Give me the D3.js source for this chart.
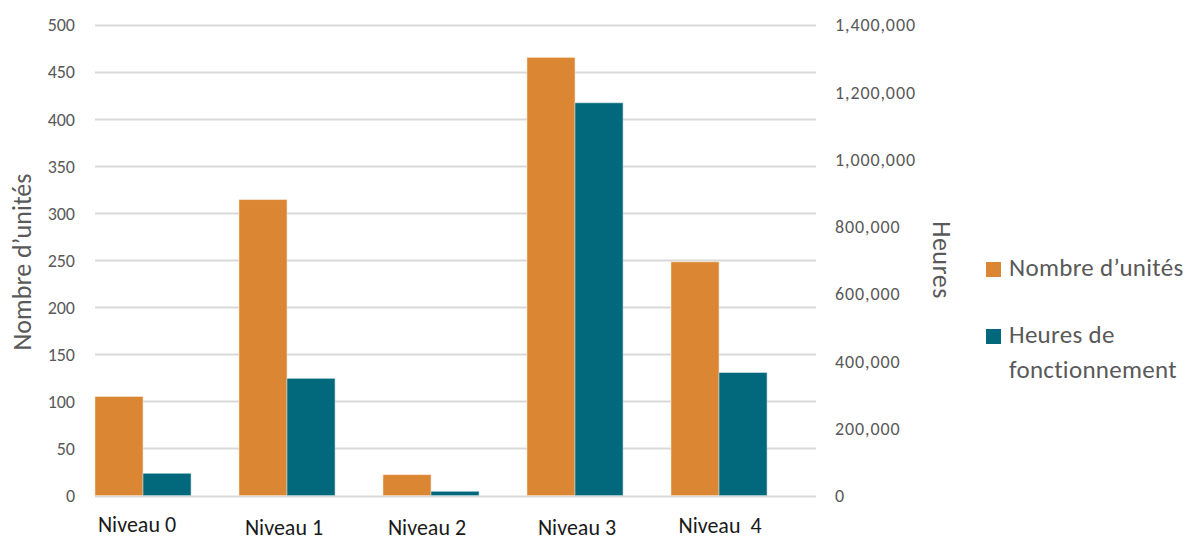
<!DOCTYPE html>
<html>
<head>
<meta charset="utf-8">
<script src="https://cdn.jsdelivr.net/npm/d3@7"></script>
<style>
  html, body { margin: 0; padding: 0; background: #fff; }
  svg { display: block; font-family: Carlito, Calibri, Lato, "Open Sans", sans-serif; }
</style>
</head>
<body>
<svg id="chart" width="1198" height="540"></svg>
<script>
// Niveaux de service
const categories = ["Niveau 0", "Niveau 1", "Niveau 2", "Niveau 3", "Niveau  4"];
// Nombre d'unités par niveau (axe de gauche)
const unites = [105, 314, 22, 465, 248];
// Heures de fonctionnement par niveau (axe de droite)
const heures = [66000, 348000, 12500, 1167000, 365000];
// Graduations
const leftTicks = [0, 50, 100, 150, 200, 250, 300, 350, 400, 450, 500];
const rightTicks = [0, 200000, 400000, 600000, 800000, 1000000, 1200000, 1400000];
const seriesNames = ["Nombre d\u2019unités", "Heures de fonctionnement"];

const ORANGE = "#DB8632";
const TEAL = "#02687C";
const GRID = "#D9D9D9";
const TICK = "#595959";

const svg = d3.select("#chart");
const plot = { left: 95, right: 816, top: 24.5, bottom: 495.5 };

const yLeft = d3.scaleLinear().domain([0, 500]).range([plot.bottom, plot.top]);
const yRight = d3.scaleLinear().domain([0, 1400000]).range([plot.bottom, plot.top]);
const x0 = d3.scaleBand().domain(categories).range([95, 767]).paddingInner(1 / 3).paddingOuter(0);
const x1 = d3.scaleBand().domain([0, 1]).range([0, x0.bandwidth()]);

// gridlines
svg.append("g").selectAll("line").data(leftTicks).join("line")
  .attr("x1", plot.left).attr("x2", plot.right)
  .attr("y1", d => Math.round(yLeft(d)) + 0.5).attr("y2", d => Math.round(yLeft(d)) + 0.5)
  .attr("stroke", GRID).attr("stroke-width", 2);

// left axis
const axL = svg.append("g").attr("transform", `translate(${plot.left - 20},0)`)
  .call(d3.axisLeft(yLeft).tickValues(leftTicks).tickSize(0).tickPadding(0).tickFormat(d3.format("d")));
axL.select(".domain").remove();
axL.selectAll("text").attr("fill", TICK).style("font-size", "18px").attr("dy", "0.35em")
  .style("font-family", "Carlito, Calibri, Lato, sans-serif");

// right axis
const axR = svg.append("g").attr("transform", `translate(${plot.right + 19},0)`)
  .call(d3.axisRight(yRight).tickValues(rightTicks).tickSize(0).tickPadding(0).tickFormat(d3.format(",")));
axR.select(".domain").remove();
axR.selectAll("text").attr("fill", TICK).style("font-size", "18px").attr("dy", "0.35em")
  .style("letter-spacing", "0.9px")
  .style("font-family", "Carlito, Calibri, Lato, sans-serif");

// bars
const groups = svg.append("g").selectAll("g").data(categories).join("g")
  .attr("transform", d => `translate(${x0(d)},0)`);
groups.append("rect")
  .attr("x", x1(0)).attr("width", x1.bandwidth())
  .attr("y", (d, i) => yLeft(unites[i]))
  .attr("height", (d, i) => plot.bottom - yLeft(unites[i]))
  .attr("fill", ORANGE).attr("stroke", "#F6E0C8").attr("stroke-width", 0.6);
groups.append("rect")
  .attr("x", x1(1)).attr("width", x1.bandwidth())
  .attr("y", (d, i) => yRight(heures[i]))
  .attr("height", (d, i) => plot.bottom - yRight(heures[i]))
  .attr("fill", TEAL).attr("stroke", "#B8D4DA").attr("stroke-width", 0.6);

// category labels
const nudgeX = [-6, -3, -4, 2, 1];
const nudgeY = [-3, 0, 0, 0, -2];
svg.append("g").selectAll("text").data(categories).join("text")
  .attr("x", (d, i) => x0(d) + x0.bandwidth() / 2 + nudgeX[i])
  .attr("y", (d, i) => 535 + nudgeY[i])
  .attr("text-anchor", "middle")
  .attr("fill", "#1a1a1a")
  .style("font-size", "22px")
  .style("white-space", "pre")
  .attr("xml:space", "preserve")
  .text(d => d);

// axis titles
svg.append("text")
  .attr("transform", "translate(31,262) rotate(-90)")
  .attr("text-anchor", "middle").attr("fill", TICK).style("font-size", "26px")
  .text("Nombre d\u2019unités");
svg.append("text")
  .attr("transform", "translate(933,260) rotate(90)")
  .attr("text-anchor", "middle").attr("fill", TICK).style("font-size", "26px")
  .style("letter-spacing", "0.5px")
  .text("Heures");

// legend
const legend = svg.append("g");
const legendRows = [
  { color: ORANGE, lines: [seriesNames[0]], y: 276 },
  { color: TEAL, lines: ["Heures de", "fonctionnement"], y: 343 }
];
legendRows.forEach(r => {
  legend.append("rect").attr("x", 986).attr("y", r.y - 14).attr("width", 15).attr("height", 15).attr("fill", r.color);
  r.lines.forEach((t, j) => {
    legend.append("text").attr("x", 1009).attr("y", r.y + j * 35)
      .attr("fill", TICK).style("font-size", "25px").style("letter-spacing", "0.3px").text(t);
  });
});
</script>
</body>
</html>
